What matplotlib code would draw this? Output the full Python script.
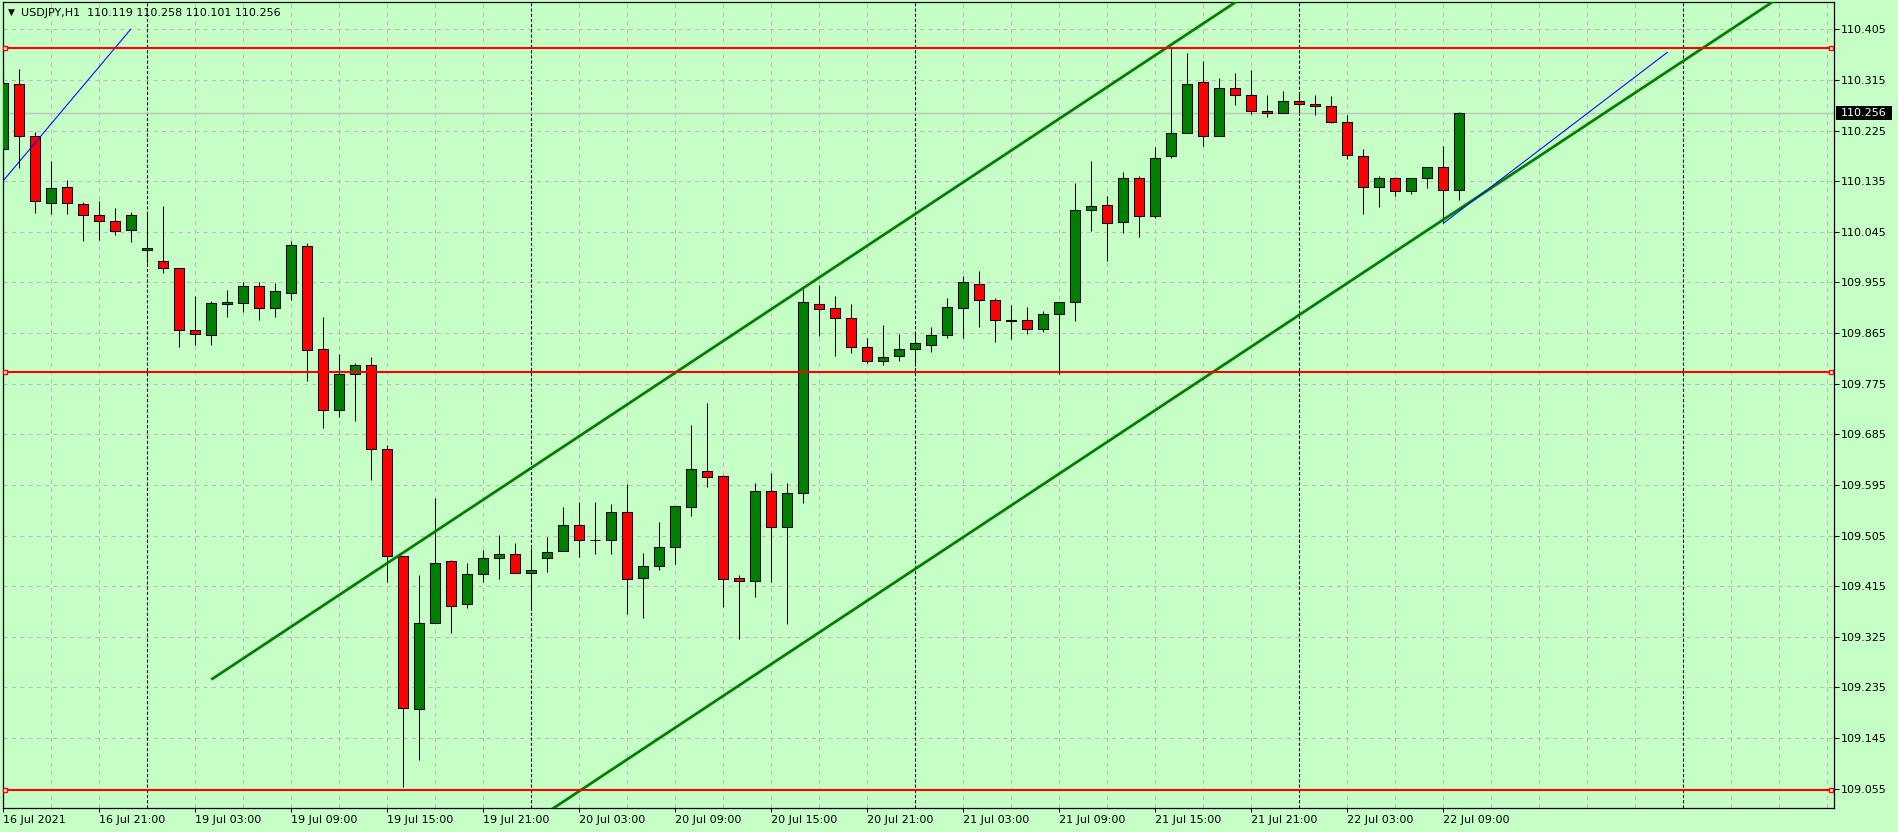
import matplotlib
matplotlib.use("Agg")
import matplotlib.pyplot as plt
from matplotlib.patches import Rectangle

# USDJPY H1, 16 Jul 2021 15:00 .. 22 Jul 2021 10:00 (weekend bars skipped)
opens = [110.192, 110.307, 110.215, 110.096, 110.124, 110.094, 110.074, 110.064, 110.048, 110.012,
         109.993, 109.980, 109.870, 109.861, 109.916, 109.918, 109.948, 109.909, 109.937, 110.019,
         109.836, 109.728, 109.793, 109.808, 109.658, 109.468, 109.196, 109.349, 109.459, 109.383,
         109.436, 109.465, 109.472, 109.438, 109.465, 109.477, 109.523, 109.497, 109.497, 109.546,
         109.429, 109.450, 109.484, 109.555, 109.619, 109.610, 109.429, 109.424, 109.584, 109.521,
         109.580, 109.916, 109.909, 109.891, 109.841, 109.815, 109.825, 109.836, 109.843, 109.861,
         109.909, 109.953, 109.923, 109.889, 109.888, 109.873, 109.898, 109.921, 110.083, 110.092,
         110.062, 110.140, 110.073, 110.179, 110.220, 110.311, 110.215, 110.300, 110.289, 110.259,
         110.256, 110.277, 110.273, 110.268, 110.241, 110.179, 110.124, 110.140, 110.117, 110.140,
         110.160, 110.119]
highs = [110.333, 110.334, 110.222, 110.171, 110.137, 110.098, 110.100, 110.087, 110.080, 110.080,
         110.090, 109.980, 109.931, 109.922, 109.942, 109.956, 109.956, 109.954, 110.028, 110.025,
         109.894, 109.828, 109.811, 109.822, 109.666, 109.468, 109.435, 109.571, 109.461, 109.456,
         109.479, 109.506, 109.492, 109.482, 109.502, 109.555, 109.564, 109.564, 109.561, 109.597,
         109.474, 109.529, 109.557, 109.701, 109.741, 109.612, 109.434, 109.598, 109.617, 109.598,
         109.943, 109.950, 109.930, 109.916, 109.857, 109.879, 109.863, 109.866, 109.875, 109.927,
         109.966, 109.975, 109.927, 109.914, 109.911, 109.904, 109.921, 110.132, 110.170, 110.108,
         110.151, 110.145, 110.195, 110.371, 110.362, 110.348, 110.318, 110.327, 110.332, 110.288,
         110.295, 110.293, 110.289, 110.286, 110.252, 110.192, 110.144, 110.142, 110.140, 110.161,
         110.197, 110.258]
lows = [110.155, 110.159, 110.079, 110.077, 110.077, 110.029, 110.031, 110.040, 110.027, 109.989,
        109.971, 109.841, 109.844, 109.844, 109.893, 109.902, 109.889, 109.893, 109.923, 109.780,
        109.696, 109.716, 109.709, 109.603, 109.423, 109.058, 109.106, 109.349, 109.332, 109.377,
        109.423, 109.427, 109.438, 109.373, 109.440, 109.477, 109.467, 109.472, 109.472, 109.365,
        109.358, 109.443, 109.454, 109.539, 109.591, 109.378, 109.321, 109.396, 109.423, 109.347,
        109.562, 109.859, 109.824, 109.830, 109.811, 109.809, 109.815, 109.806, 109.831, 109.856,
        109.856, 109.875, 109.849, 109.854, 109.863, 109.866, 109.793, 109.886, 110.046, 109.993,
        110.042, 110.035, 110.069, 110.176, 110.220, 110.197, 110.215, 110.270, 110.254, 110.249,
        110.256, 110.256, 110.252, 110.238, 110.174, 110.076, 110.089, 110.108, 110.113, 110.122,
        110.062, 110.101]
closes = [110.309, 110.215, 110.099, 110.122, 110.096, 110.074, 110.065, 110.046, 110.074, 110.016,
          109.980, 109.870, 109.863, 109.918, 109.920, 109.948, 109.909, 109.939, 110.021, 109.835,
          109.728, 109.792, 109.808, 109.658, 109.468, 109.198, 109.349, 109.457, 109.379, 109.436,
          109.465, 109.472, 109.438, 109.443, 109.475, 109.523, 109.497, 109.497, 109.546, 109.427,
          109.450, 109.484, 109.557, 109.623, 109.609, 109.427, 109.424, 109.584, 109.521, 109.580,
          109.920, 109.907, 109.891, 109.840, 109.815, 109.822, 109.836, 109.847, 109.861, 109.911,
          109.955, 109.923, 109.889, 109.886, 109.873, 109.898, 109.921, 110.083, 110.090, 110.060,
          110.140, 110.073, 110.177, 110.220, 110.307, 110.215, 110.300, 110.289, 110.259, 110.256,
          110.277, 110.273, 110.268, 110.240, 110.181, 110.124, 110.140, 110.117, 110.140, 110.161,
          110.119, 110.256]

time_labels = ["16 Jul 2021", "16 Jul 21:00", "19 Jul 03:00", "19 Jul 09:00", "19 Jul 15:00",
               "19 Jul 21:00", "20 Jul 03:00", "20 Jul 09:00", "20 Jul 15:00", "20 Jul 21:00",
               "21 Jul 03:00", "21 Jul 09:00", "21 Jul 15:00", "21 Jul 21:00", "22 Jul 03:00",
               "22 Jul 09:00"]
label_step = 6          # bars between time labels
day_starts = [9, 33, 57, 81, 105]   # bar index of 19..23 Jul 00:00

price_ticks = [109.055, 109.145, 109.235, 109.325, 109.415, 109.505, 109.595, 109.685,
               109.775, 109.865, 109.955, 110.045, 110.135, 110.225, 110.315, 110.405]

levels = [110.372, 109.795, 109.053]                 # horizontal lines
channel_upper = [(13, 109.249), (77, 110.453)]       # equidistant channel
channel_width = 0.631
blue_lines = [[(-1.0, 110.102), (7.96, 110.405)],
              [(90.0, 110.060), (104.0, 110.364)]]

BG = "#c5ffc5"
GRID = "#c4b6c4"
BULL = "#008000"
BEAR = "#ff0000"

W, H = 1898, 832
fig = plt.figure(figsize=(W / 100, H / 100), dpi=100, facecolor=BG)
ax = fig.add_axes([2.7 / W, 1 - 808.3 / H, (1834 - 2.7) / W, (808.3 - 2.3) / H])
ax.set_facecolor(BG)
x_lo, x_hi = -0.0375, 114.42
ax.set_xlim(x_lo, x_hi)
ax.set_ylim(109.0201, 110.453)

# grid
for p in price_ticks:
    ax.axhline(p, color=GRID, lw=0.75, ls=(0, (4, 4)), zorder=1)
for k in range(0, int(x_hi) + 1, 3):
    if k in day_starts:
        ax.axvline(k, color="black", lw=0.75, ls=(0, (3, 2)), zorder=1)
    else:
        ax.axvline(k, color=GRID, lw=0.75, ls=(0, (4, 4)), zorder=1)

# bid line
ax.axhline(closes[-1], color="#c0c0c0", lw=1.0, zorder=2)

# candles
bw = 0.64
for i, (o, h, l, c) in enumerate(zip(opens, highs, lows, closes)):
    ax.vlines(i, l, h, color="black", lw=0.75, zorder=3)
    if c == o:
        ax.hlines(o, i - bw / 2, i + bw / 2, color="black", lw=0.75, zorder=4)
    else:
        ax.add_patch(Rectangle((i - bw / 2, min(o, c)), bw, abs(c - o),
                               facecolor=BULL if c > o else BEAR,
                               edgecolor="black", lw=0.75, zorder=4))

# channel
(x0, y0), (x1, y1) = channel_upper
slope = (y1 - y0) / (x1 - x0)
x_end = 130
for off in (0, channel_width):
    ax.plot([x0, x_end], [y0 - off, y0 - off + slope * (x_end - x0)],
            color=BULL, lw=2.0, zorder=5, solid_capstyle="butt")

# blue trend lines
for pts in blue_lines:
    ax.plot([pts[0][0], pts[1][0]], [pts[0][1], pts[1][1]], color="#0000ff", lw=0.75, zorder=5)

# horizontal levels
for lv in levels:
    ax.axhline(lv, color="red", lw=1.5, zorder=6)
    ax.plot([x_lo + 0.14, x_hi - 0.21], [lv, lv], "s", ms=3.2, mfc="white",
            mec="red", mew=1.0, zorder=7, clip_on=False)

# axes
for s in ax.spines.values():
    s.set_color("black")
    s.set_linewidth(0.9)
ax.set_xticks(range(0, label_step * len(time_labels), label_step))
ax.set_xticklabels(time_labels, fontsize=8, ha="left")
ax.set_yticks(price_ticks)
ax.set_yticklabels([f"{p:.3f}" for p in price_ticks], fontsize=8)
ax.yaxis.tick_right()
ax.tick_params(axis="x", direction="out", length=3, width=0.75, pad=1.5, colors="black")
ax.tick_params(axis="y", direction="out", length=3.5, width=0.75, pad=1.5, colors="black")

# current price box
ytr = ax.get_yaxis_transform()
ax.add_patch(Rectangle((1.0011, closes[-1] - 0.0118), 0.0306, 0.0236, transform=ytr,
                       facecolor="black", edgecolor="none", clip_on=False, zorder=8))
ax.text(1.0038, closes[-1], f"{closes[-1]:.3f}", transform=ytr, color="white",
        fontsize=8, ha="left", va="center", zorder=9, clip_on=False)

# title
fig.text(11 / W, 1 - 12.7 / H, "\u25bc", fontsize=6.5, ha="center", va="center")
fig.text(20.7 / W, 1 - 12.7 / H,
         f"USDJPY,H1  {opens[-1]:.3f} {highs[-1]:.3f} {lows[-1]:.3f} {closes[-1]:.3f}",
         fontsize=8, ha="left", va="center")

fig.savefig("out.png", dpi=100, facecolor=BG)
